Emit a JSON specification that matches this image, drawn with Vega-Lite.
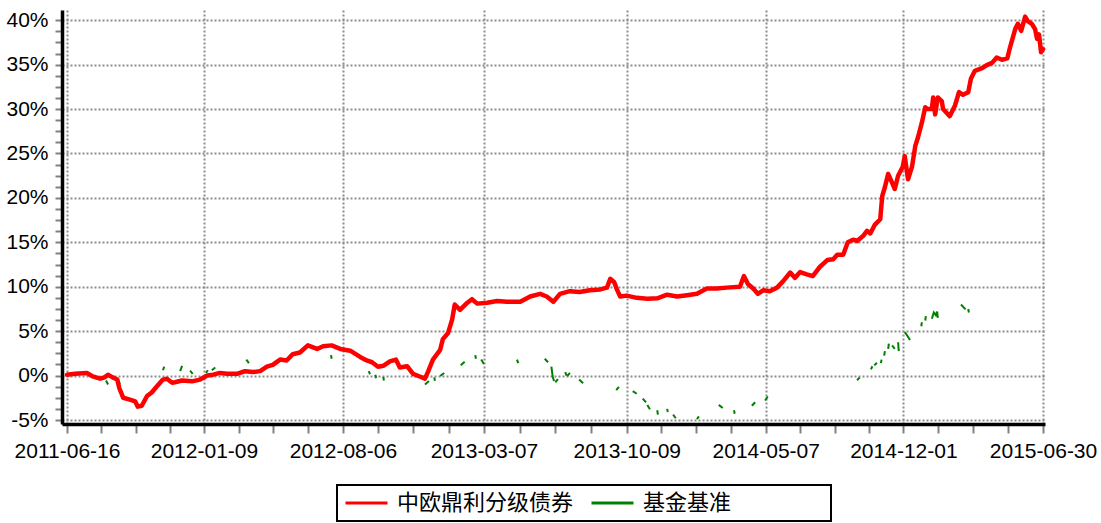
{
  "$schema": "https://vega.github.io/schema/vega-lite/v6.json",
  "autosize": {"type": "none"},
  "padding": {"left": 62, "top": 10, "right": 56, "bottom": 99},
  "width": 983,
  "height": 414,
  "background": "white",
  "config": {
    "font": "Liberation Sans",
    "view": {"stroke": null}
  },
  "data": {
    "values": [
      {"date": "2011/06/16", "series": "中欧鼎利分级债券", "value": 0.1, "seg": 0},
      {"date": "2011/06/28", "series": "中欧鼎利分级债券", "value": 0.2, "seg": 0},
      {"date": "2011/07/16", "series": "中欧鼎利分级债券", "value": 0.3, "seg": 0},
      {"date": "2011/07/25", "series": "中欧鼎利分级债券", "value": -0.1, "seg": 0},
      {"date": "2011/08/05", "series": "中欧鼎利分级债券", "value": -0.35, "seg": 0},
      {"date": "2011/08/12", "series": "中欧鼎利分级债券", "value": -0.2, "seg": 0},
      {"date": "2011/08/17", "series": "中欧鼎利分级债券", "value": 0.1, "seg": 0},
      {"date": "2011/08/24", "series": "中欧鼎利分级债券", "value": -0.2, "seg": 0},
      {"date": "2011/08/31", "series": "中欧鼎利分级债券", "value": -0.45, "seg": 0},
      {"date": "2011/09/03", "series": "中欧鼎利分级债券", "value": -1.4, "seg": 0},
      {"date": "2011/09/09", "series": "中欧鼎利分级债券", "value": -2.5, "seg": 0},
      {"date": "2011/09/19", "series": "中欧鼎利分级债券", "value": -2.7, "seg": 0},
      {"date": "2011/09/27", "series": "中欧鼎利分级债券", "value": -2.9, "seg": 0},
      {"date": "2011/10/01", "series": "中欧鼎利分级债券", "value": -3.5, "seg": 0},
      {"date": "2011/10/07", "series": "中欧鼎利分级债券", "value": -3.4, "seg": 0},
      {"date": "2011/10/15", "series": "中欧鼎利分级债券", "value": -2.3, "seg": 0},
      {"date": "2011/10/22", "series": "中欧鼎利分级债券", "value": -1.9, "seg": 0},
      {"date": "2011/10/30", "series": "中欧鼎利分级债券", "value": -1.2, "seg": 0},
      {"date": "2011/11/08", "series": "中欧鼎利分级债券", "value": -0.45, "seg": 0},
      {"date": "2011/11/14", "series": "中欧鼎利分级债券", "value": -0.35, "seg": 0},
      {"date": "2011/11/22", "series": "中欧鼎利分级债券", "value": -0.8, "seg": 0},
      {"date": "2011/11/26", "series": "中欧鼎利分级债券", "value": -0.75, "seg": 0},
      {"date": "2011/12/07", "series": "中欧鼎利分级债券", "value": -0.55, "seg": 0},
      {"date": "2011/12/22", "series": "中欧鼎利分级债券", "value": -0.65, "seg": 0},
      {"date": "2012/01/03", "series": "中欧鼎利分级债券", "value": -0.45, "seg": 0},
      {"date": "2012/01/14", "series": "中欧鼎利分级债券", "value": 0.0, "seg": 0},
      {"date": "2012/01/23", "series": "中欧鼎利分级债券", "value": 0.1, "seg": 0},
      {"date": "2012/02/02", "series": "中欧鼎利分级债券", "value": 0.3, "seg": 0},
      {"date": "2012/02/13", "series": "中欧鼎利分级债券", "value": 0.2, "seg": 0},
      {"date": "2012/02/28", "series": "中欧鼎利分级债券", "value": 0.2, "seg": 0},
      {"date": "2012/03/11", "series": "中欧鼎利分级债券", "value": 0.5, "seg": 0},
      {"date": "2012/03/23", "series": "中欧鼎利分级债券", "value": 0.4, "seg": 0},
      {"date": "2012/04/03", "series": "中欧鼎利分级债券", "value": 0.5, "seg": 0},
      {"date": "2012/04/13", "series": "中欧鼎利分级债券", "value": 1.0, "seg": 0},
      {"date": "2012/04/22", "series": "中欧鼎利分级债券", "value": 1.2, "seg": 0},
      {"date": "2012/05/03", "series": "中欧鼎利分级债券", "value": 1.8, "seg": 0},
      {"date": "2012/05/13", "series": "中欧鼎利分级债券", "value": 1.7, "seg": 0},
      {"date": "2012/05/22", "series": "中欧鼎利分级债券", "value": 2.4, "seg": 0},
      {"date": "2012/06/02", "series": "中欧鼎利分级债券", "value": 2.6, "seg": 0},
      {"date": "2012/06/14", "series": "中欧鼎利分级债券", "value": 3.4, "seg": 0},
      {"date": "2012/06/28", "series": "中欧鼎利分级债券", "value": 3.0, "seg": 0},
      {"date": "2012/07/07", "series": "中欧鼎利分级债券", "value": 3.3, "seg": 0},
      {"date": "2012/07/20", "series": "中欧鼎利分级债券", "value": 3.4, "seg": 0},
      {"date": "2012/08/02", "series": "中欧鼎利分级债券", "value": 3.0, "seg": 0},
      {"date": "2012/08/17", "series": "中欧鼎利分级债券", "value": 2.8, "seg": 0},
      {"date": "2012/09/01", "series": "中欧鼎利分级债券", "value": 2.1, "seg": 0},
      {"date": "2012/09/11", "series": "中欧鼎利分级债券", "value": 1.7, "seg": 0},
      {"date": "2012/09/19", "series": "中欧鼎利分级债券", "value": 1.5, "seg": 0},
      {"date": "2012/09/28", "series": "中欧鼎利分级债券", "value": 1.0, "seg": 0},
      {"date": "2012/10/06", "series": "中欧鼎利分级债券", "value": 1.1, "seg": 0},
      {"date": "2012/10/16", "series": "中欧鼎利分级债券", "value": 1.6, "seg": 0},
      {"date": "2012/10/25", "series": "中欧鼎利分级债券", "value": 1.8, "seg": 0},
      {"date": "2012/10/31", "series": "中欧鼎利分级债券", "value": 0.9, "seg": 0},
      {"date": "2012/11/11", "series": "中欧鼎利分级债券", "value": 1.05, "seg": 0},
      {"date": "2012/11/20", "series": "中欧鼎利分级债券", "value": 0.2, "seg": 0},
      {"date": "2012/11/30", "series": "中欧鼎利分级债券", "value": -0.1, "seg": 0},
      {"date": "2012/12/08", "series": "中欧鼎利分级债券", "value": -0.35, "seg": 0},
      {"date": "2012/12/13", "series": "中欧鼎利分级债券", "value": 0.5, "seg": 0},
      {"date": "2012/12/20", "series": "中欧鼎利分级债券", "value": 1.8, "seg": 0},
      {"date": "2012/12/31", "series": "中欧鼎利分级债券", "value": 2.9, "seg": 0},
      {"date": "2013/01/04", "series": "中欧鼎利分级债券", "value": 4.1, "seg": 0},
      {"date": "2013/01/12", "series": "中欧鼎利分级债券", "value": 4.8, "seg": 0},
      {"date": "2013/01/18", "series": "中欧鼎利分级债券", "value": 6.3, "seg": 0},
      {"date": "2013/01/22", "series": "中欧鼎利分级债券", "value": 8.0, "seg": 0},
      {"date": "2013/01/30", "series": "中欧鼎利分级债券", "value": 7.4, "seg": 0},
      {"date": "2013/02/10", "series": "中欧鼎利分级债券", "value": 8.2, "seg": 0},
      {"date": "2013/02/17", "series": "中欧鼎利分级债券", "value": 8.6, "seg": 0},
      {"date": "2013/02/25", "series": "中欧鼎利分级债券", "value": 8.1, "seg": 0},
      {"date": "2013/03/12", "series": "中欧鼎利分级债券", "value": 8.2, "seg": 0},
      {"date": "2013/03/27", "series": "中欧鼎利分级债券", "value": 8.4, "seg": 0},
      {"date": "2013/04/11", "series": "中欧鼎利分级债券", "value": 8.3, "seg": 0},
      {"date": "2013/05/01", "series": "中欧鼎利分级债券", "value": 8.3, "seg": 0},
      {"date": "2013/05/16", "series": "中欧鼎利分级债券", "value": 8.9, "seg": 0},
      {"date": "2013/05/31", "series": "中欧鼎利分级债券", "value": 9.2, "seg": 0},
      {"date": "2013/06/10", "series": "中欧鼎利分级债券", "value": 8.9, "seg": 0},
      {"date": "2013/06/20", "series": "中欧鼎利分级债券", "value": 8.3, "seg": 0},
      {"date": "2013/06/30", "series": "中欧鼎利分级债券", "value": 9.2, "seg": 0},
      {"date": "2013/07/15", "series": "中欧鼎利分级债券", "value": 9.5, "seg": 0},
      {"date": "2013/07/30", "series": "中欧鼎利分级债券", "value": 9.4, "seg": 0},
      {"date": "2013/08/14", "series": "中欧鼎利分级债券", "value": 9.6, "seg": 0},
      {"date": "2013/08/30", "series": "中欧鼎利分级债券", "value": 9.7, "seg": 0},
      {"date": "2013/09/09", "series": "中欧鼎利分级债券", "value": 9.9, "seg": 0},
      {"date": "2013/09/14", "series": "中欧鼎利分级债券", "value": 10.9, "seg": 0},
      {"date": "2013/09/20", "series": "中欧鼎利分级债券", "value": 10.5, "seg": 0},
      {"date": "2013/09/24", "series": "中欧鼎利分级债券", "value": 9.7, "seg": 0},
      {"date": "2013/09/29", "series": "中欧鼎利分级债券", "value": 8.9, "seg": 0},
      {"date": "2013/10/09", "series": "中欧鼎利分级债券", "value": 9.0, "seg": 0},
      {"date": "2013/10/24", "series": "中欧鼎利分级债券", "value": 8.75, "seg": 0},
      {"date": "2013/11/09", "series": "中欧鼎利分级债券", "value": 8.65, "seg": 0},
      {"date": "2013/11/24", "series": "中欧鼎利分级债券", "value": 8.7, "seg": 0},
      {"date": "2013/12/09", "series": "中欧鼎利分级债券", "value": 9.1, "seg": 0},
      {"date": "2013/12/24", "series": "中欧鼎利分级债券", "value": 8.9, "seg": 0},
      {"date": "2014/01/08", "series": "中欧鼎利分级债券", "value": 9.05, "seg": 0},
      {"date": "2014/01/23", "series": "中欧鼎利分级债券", "value": 9.2, "seg": 0},
      {"date": "2014/02/07", "series": "中欧鼎利分级债券", "value": 9.8, "seg": 0},
      {"date": "2014/02/22", "series": "中欧鼎利分级债券", "value": 9.8, "seg": 0},
      {"date": "2014/03/09", "series": "中欧鼎利分级债券", "value": 9.9, "seg": 0},
      {"date": "2014/03/29", "series": "中欧鼎利分级债券", "value": 10.0, "seg": 0},
      {"date": "2014/04/04", "series": "中欧鼎利分级债券", "value": 11.2, "seg": 0},
      {"date": "2014/04/10", "series": "中欧鼎利分级债券", "value": 10.3, "seg": 0},
      {"date": "2014/04/18", "series": "中欧鼎利分级债券", "value": 9.8, "seg": 0},
      {"date": "2014/04/25", "series": "中欧鼎利分级债券", "value": 9.2, "seg": 0},
      {"date": "2014/05/03", "series": "中欧鼎利分级债券", "value": 9.6, "seg": 0},
      {"date": "2014/05/13", "series": "中欧鼎利分级债券", "value": 9.5, "seg": 0},
      {"date": "2014/05/24", "series": "中欧鼎利分级债券", "value": 9.9, "seg": 0},
      {"date": "2014/06/02", "series": "中欧鼎利分级债券", "value": 10.6, "seg": 0},
      {"date": "2014/06/13", "series": "中欧鼎利分级债券", "value": 11.6, "seg": 0},
      {"date": "2014/06/20", "series": "中欧鼎利分级债券", "value": 11.0, "seg": 0},
      {"date": "2014/06/28", "series": "中欧鼎利分级债券", "value": 11.65, "seg": 0},
      {"date": "2014/07/08", "series": "中欧鼎利分级债券", "value": 11.4, "seg": 0},
      {"date": "2014/07/17", "series": "中欧鼎利分级债券", "value": 11.2, "seg": 0},
      {"date": "2014/07/28", "series": "中欧鼎利分级债券", "value": 12.25, "seg": 0},
      {"date": "2014/08/08", "series": "中欧鼎利分级债券", "value": 13.0, "seg": 0},
      {"date": "2014/08/17", "series": "中欧鼎利分级债券", "value": 13.1, "seg": 0},
      {"date": "2014/08/23", "series": "中欧鼎利分级债券", "value": 13.6, "seg": 0},
      {"date": "2014/09/01", "series": "中欧鼎利分级债券", "value": 13.6, "seg": 0},
      {"date": "2014/09/08", "series": "中欧鼎利分级债券", "value": 15.0, "seg": 0},
      {"date": "2014/09/16", "series": "中欧鼎利分级债券", "value": 15.3, "seg": 0},
      {"date": "2014/09/22", "series": "中欧鼎利分级债券", "value": 15.15, "seg": 0},
      {"date": "2014/10/01", "series": "中欧鼎利分级债券", "value": 15.7, "seg": 0},
      {"date": "2014/10/07", "series": "中欧鼎利分级债券", "value": 16.3, "seg": 0},
      {"date": "2014/10/12", "series": "中欧鼎利分级债券", "value": 16.0, "seg": 0},
      {"date": "2014/10/19", "series": "中欧鼎利分级债券", "value": 17.0, "seg": 0},
      {"date": "2014/10/27", "series": "中欧鼎利分级债券", "value": 17.6, "seg": 0},
      {"date": "2014/10/30", "series": "中欧鼎利分级债券", "value": 20.2, "seg": 0},
      {"date": "2014/11/03", "series": "中欧鼎利分级债券", "value": 21.2, "seg": 0},
      {"date": "2014/11/08", "series": "中欧鼎利分级债券", "value": 22.7, "seg": 0},
      {"date": "2014/11/14", "series": "中欧鼎利分级债券", "value": 21.7, "seg": 0},
      {"date": "2014/11/18", "series": "中欧鼎利分级债券", "value": 21.0, "seg": 0},
      {"date": "2014/11/23", "series": "中欧鼎利分级债券", "value": 22.5, "seg": 0},
      {"date": "2014/11/30", "series": "中欧鼎利分级债券", "value": 23.5, "seg": 0},
      {"date": "2014/12/03", "series": "中欧鼎利分级债券", "value": 24.7, "seg": 0},
      {"date": "2014/12/08", "series": "中欧鼎利分级债券", "value": 22.1, "seg": 0},
      {"date": "2014/12/14", "series": "中欧鼎利分级债券", "value": 23.5, "seg": 0},
      {"date": "2014/12/19", "series": "中欧鼎利分级债券", "value": 25.85, "seg": 0},
      {"date": "2014/12/23", "series": "中欧鼎利分级债券", "value": 26.8, "seg": 0},
      {"date": "2014/12/29", "series": "中欧鼎利分级债券", "value": 28.5, "seg": 0},
      {"date": "2015/01/03", "series": "中欧鼎利分级债券", "value": 30.2, "seg": 0},
      {"date": "2015/01/07", "series": "中欧鼎利分级债券", "value": 30.0, "seg": 0},
      {"date": "2015/01/13", "series": "中欧鼎利分级债券", "value": 30.0, "seg": 0},
      {"date": "2015/01/15", "series": "中欧鼎利分级债券", "value": 31.3, "seg": 0},
      {"date": "2015/01/18", "series": "中欧鼎利分级债券", "value": 29.4, "seg": 0},
      {"date": "2015/01/22", "series": "中欧鼎利分级债券", "value": 31.3, "seg": 0},
      {"date": "2015/01/28", "series": "中欧鼎利分级债券", "value": 30.9, "seg": 0},
      {"date": "2015/01/30", "series": "中欧鼎利分级债券", "value": 30.0, "seg": 0},
      {"date": "2015/02/09", "series": "中欧鼎利分级债券", "value": 29.2, "seg": 0},
      {"date": "2015/02/17", "series": "中欧鼎利分级债券", "value": 30.4, "seg": 0},
      {"date": "2015/02/23", "series": "中欧鼎利分级债券", "value": 31.9, "seg": 0},
      {"date": "2015/03/01", "series": "中欧鼎利分级债券", "value": 31.6, "seg": 0},
      {"date": "2015/03/09", "series": "中欧鼎利分级债券", "value": 31.9, "seg": 0},
      {"date": "2015/03/13", "series": "中欧鼎利分级债券", "value": 33.4, "seg": 0},
      {"date": "2015/03/19", "series": "中欧鼎利分级债券", "value": 34.3, "seg": 0},
      {"date": "2015/03/30", "series": "中欧鼎利分级债券", "value": 34.6, "seg": 0},
      {"date": "2015/04/06", "series": "中欧鼎利分级债券", "value": 34.95, "seg": 0},
      {"date": "2015/04/14", "series": "中欧鼎利分级债券", "value": 35.2, "seg": 0},
      {"date": "2015/04/21", "series": "中欧鼎利分级债券", "value": 35.8, "seg": 0},
      {"date": "2015/04/29", "series": "中欧鼎利分级债券", "value": 35.55, "seg": 0},
      {"date": "2015/05/07", "series": "中欧鼎利分级债券", "value": 35.7, "seg": 0},
      {"date": "2015/05/11", "series": "中欧鼎利分级债券", "value": 36.9, "seg": 0},
      {"date": "2015/05/19", "series": "中欧鼎利分级债券", "value": 39.0, "seg": 0},
      {"date": "2015/05/23", "series": "中欧鼎利分级债券", "value": 39.6, "seg": 0},
      {"date": "2015/05/28", "series": "中欧鼎利分级债券", "value": 38.8, "seg": 0},
      {"date": "2015/06/03", "series": "中欧鼎利分级债券", "value": 40.4, "seg": 0},
      {"date": "2015/06/07", "series": "中欧鼎利分级债券", "value": 39.9, "seg": 0},
      {"date": "2015/06/13", "series": "中欧鼎利分级债券", "value": 39.6, "seg": 0},
      {"date": "2015/06/18", "series": "中欧鼎利分级债券", "value": 39.0, "seg": 0},
      {"date": "2015/06/21", "series": "中欧鼎利分级债券", "value": 37.9, "seg": 0},
      {"date": "2015/06/24", "series": "中欧鼎利分级债券", "value": 38.4, "seg": 0},
      {"date": "2015/06/27", "series": "中欧鼎利分级债券", "value": 36.4, "seg": 0},
      {"date": "2015/06/30", "series": "中欧鼎利分级债券", "value": 36.75, "seg": 0},

      {"date": "2011/08/14", "series": "基金基准", "value": -0.55, "seg": 1},
      {"date": "2011/08/17", "series": "基金基准", "value": -1.0, "seg": 1},
      {"date": "2011/09/01", "series": "基金基准", "value": -0.5, "seg": 2},
      {"date": "2011/09/04", "series": "基金基准", "value": -0.95, "seg": 2},
      {"date": "2011/11/08", "series": "基金基准", "value": 0.6, "seg": 3},
      {"date": "2011/11/10", "series": "基金基准", "value": 1.0, "seg": 3},
      {"date": "2011/12/04", "series": "基金基准", "value": 0.5, "seg": 4},
      {"date": "2011/12/07", "series": "基金基准", "value": 1.1, "seg": 4},
      {"date": "2011/12/19", "series": "基金基准", "value": 0.55, "seg": 5},
      {"date": "2011/12/23", "series": "基金基准", "value": 0.2, "seg": 5},
      {"date": "2012/01/12", "series": "基金基准", "value": 0.3, "seg": 6},
      {"date": "2012/01/15", "series": "基金基准", "value": 0.6, "seg": 6},
      {"date": "2012/01/21", "series": "基金基准", "value": 0.6, "seg": 7},
      {"date": "2012/01/26", "series": "基金基准", "value": 0.9, "seg": 7},
      {"date": "2012/03/13", "series": "基金基准", "value": 1.8, "seg": 8},
      {"date": "2012/03/17", "series": "基金基准", "value": 1.4, "seg": 8},
      {"date": "2012/07/19", "series": "基金基准", "value": 2.3, "seg": 9},
      {"date": "2012/07/20", "series": "基金基准", "value": 1.9, "seg": 9},
      {"date": "2012/09/14", "series": "基金基准", "value": 0.5, "seg": 10},
      {"date": "2012/09/16", "series": "基金基准", "value": 0.15, "seg": 10},
      {"date": "2012/09/24", "series": "基金基准", "value": 0.1, "seg": 11},
      {"date": "2012/09/25", "series": "基金基准", "value": -0.3, "seg": 11},
      {"date": "2012/10/06", "series": "基金基准", "value": -0.15, "seg": 12},
      {"date": "2012/10/07", "series": "基金基准", "value": -0.55, "seg": 12},
      {"date": "2012/12/08", "series": "基金基准", "value": -1.0, "seg": 13},
      {"date": "2012/12/14", "series": "基金基准", "value": -0.6, "seg": 13},
      {"date": "2012/12/22", "series": "基金基准", "value": -0.2, "seg": 14},
      {"date": "2012/12/23", "series": "基金基准", "value": -0.6, "seg": 14},
      {"date": "2012/12/31", "series": "基金基准", "value": -0.05, "seg": 15},
      {"date": "2013/01/06", "series": "基金基准", "value": 0.3, "seg": 15},
      {"date": "2013/01/31", "series": "基金基准", "value": 1.15, "seg": 16},
      {"date": "2013/02/06", "series": "基金基准", "value": 1.55, "seg": 16},
      {"date": "2013/02/22", "series": "基金基准", "value": 2.3, "seg": 17},
      {"date": "2013/02/23", "series": "基金基准", "value": 1.9, "seg": 17},
      {"date": "2013/03/03", "series": "基金基准", "value": 1.8, "seg": 18},
      {"date": "2013/03/07", "series": "基金基准", "value": 1.3, "seg": 18},
      {"date": "2013/04/26", "series": "基金基准", "value": 1.8, "seg": 19},
      {"date": "2013/04/28", "series": "基金基准", "value": 1.4, "seg": 19},
      {"date": "2013/06/07", "series": "基金基准", "value": 1.9, "seg": 20},
      {"date": "2013/06/12", "series": "基金基准", "value": 1.5, "seg": 20},
      {"date": "2013/06/17", "series": "基金基准", "value": 1.0, "seg": 21},
      {"date": "2013/06/19", "series": "基金基准", "value": -0.1, "seg": 21},
      {"date": "2013/06/21", "series": "基金基准", "value": -0.6, "seg": 21},
      {"date": "2013/06/23", "series": "基金基准", "value": -0.75, "seg": 22},
      {"date": "2013/06/27", "series": "基金基准", "value": -0.4, "seg": 22},
      {"date": "2013/07/08", "series": "基金基准", "value": 0.4, "seg": 23},
      {"date": "2013/07/10", "series": "基金基准", "value": 0.0, "seg": 23},
      {"date": "2013/07/11", "series": "基金基准", "value": -0.05, "seg": 24},
      {"date": "2013/07/15", "series": "基金基准", "value": 0.3, "seg": 24},
      {"date": "2013/07/29", "series": "基金基准", "value": -0.45, "seg": 25},
      {"date": "2013/08/04", "series": "基金基准", "value": -0.85, "seg": 25},
      {"date": "2013/09/23", "series": "基金基准", "value": -1.65, "seg": 26},
      {"date": "2013/09/27", "series": "基金基准", "value": -1.27, "seg": 26},
      {"date": "2013/10/18", "series": "基金基准", "value": -1.75, "seg": 27},
      {"date": "2013/10/24", "series": "基金基准", "value": -2.05, "seg": 27},
      {"date": "2013/11/02", "series": "基金基准", "value": -2.6, "seg": 28},
      {"date": "2013/11/07", "series": "基金基准", "value": -3.0, "seg": 28},
      {"date": "2013/11/09", "series": "基金基准", "value": -3.3, "seg": 29},
      {"date": "2013/11/13", "series": "基金基准", "value": -3.8, "seg": 29},
      {"date": "2013/11/24", "series": "基金基准", "value": -3.9, "seg": 30},
      {"date": "2013/11/25", "series": "基金基准", "value": -4.4, "seg": 30},
      {"date": "2013/12/09", "series": "基金基准", "value": -3.75, "seg": 31},
      {"date": "2013/12/10", "series": "基金基准", "value": -4.1, "seg": 31},
      {"date": "2013/12/18", "series": "基金基准", "value": -4.4, "seg": 32},
      {"date": "2013/12/22", "series": "基金基准", "value": -4.8, "seg": 32},
      {"date": "2014/01/23", "series": "基金基准", "value": -4.9, "seg": 33},
      {"date": "2014/01/26", "series": "基金基准", "value": -4.6, "seg": 33},
      {"date": "2014/02/25", "series": "基金基准", "value": -3.3, "seg": 34},
      {"date": "2014/03/03", "series": "基金基准", "value": -3.65, "seg": 34},
      {"date": "2014/03/20", "series": "基金基准", "value": -3.9, "seg": 35},
      {"date": "2014/03/21", "series": "基金基准", "value": -4.3, "seg": 35},
      {"date": "2014/04/16", "series": "基金基准", "value": -3.4, "seg": 36},
      {"date": "2014/04/21", "series": "基金基准", "value": -3.0, "seg": 36},
      {"date": "2014/05/06", "series": "基金基准", "value": -2.8, "seg": 37},
      {"date": "2014/05/10", "series": "基金基准", "value": -2.35, "seg": 37},
      {"date": "2014/09/22", "series": "基金基准", "value": -0.53, "seg": 38},
      {"date": "2014/09/26", "series": "基金基准", "value": -0.2, "seg": 38},
      {"date": "2014/10/13", "series": "基金基准", "value": 0.7, "seg": 39},
      {"date": "2014/10/15", "series": "基金基准", "value": 1.05, "seg": 39},
      {"date": "2014/10/18", "series": "基金基准", "value": 1.15, "seg": 40},
      {"date": "2014/10/22", "series": "基金基准", "value": 1.45, "seg": 40},
      {"date": "2014/10/28", "series": "基金基准", "value": 1.4, "seg": 41},
      {"date": "2014/10/29", "series": "基金基准", "value": 1.8, "seg": 41},
      {"date": "2014/11/02", "series": "基金基准", "value": 2.25, "seg": 42},
      {"date": "2014/11/03", "series": "基金基准", "value": 2.75, "seg": 42},
      {"date": "2014/11/08", "series": "基金基准", "value": 3.0, "seg": 43},
      {"date": "2014/11/09", "series": "基金基准", "value": 3.6, "seg": 43},
      {"date": "2014/11/14", "series": "基金基准", "value": 3.4, "seg": 44},
      {"date": "2014/11/18", "series": "基金基准", "value": 3.0, "seg": 44},
      {"date": "2014/11/23", "series": "基金基准", "value": 3.75, "seg": 45},
      {"date": "2014/11/24", "series": "基金基准", "value": 2.75, "seg": 45},
      {"date": "2014/12/03", "series": "基金基准", "value": 4.9, "seg": 46},
      {"date": "2014/12/06", "series": "基金基准", "value": 4.6, "seg": 46},
      {"date": "2014/12/11", "series": "基金基准", "value": 4.0, "seg": 46},
      {"date": "2014/12/28", "series": "基金基准", "value": 5.55, "seg": 47},
      {"date": "2014/12/29", "series": "基金基准", "value": 6.0, "seg": 47},
      {"date": "2015/01/03", "series": "基金基准", "value": 6.2, "seg": 48},
      {"date": "2015/01/04", "series": "基金基准", "value": 6.7, "seg": 48},
      {"date": "2015/01/13", "series": "基金基准", "value": 6.4, "seg": 49},
      {"date": "2015/01/16", "series": "基金基准", "value": 7.1, "seg": 49},
      {"date": "2015/01/19", "series": "基金基准", "value": 6.8, "seg": 49},
      {"date": "2015/01/21", "series": "基金基准", "value": 7.2, "seg": 49},
      {"date": "2015/01/22", "series": "基金基准", "value": 6.5, "seg": 49},
      {"date": "2015/02/26", "series": "基金基准", "value": 8.0, "seg": 50},
      {"date": "2015/03/05", "series": "基金基准", "value": 7.45, "seg": 50},
      {"date": "2015/03/09", "series": "基金基准", "value": 7.5, "seg": 51},
      {"date": "2015/03/10", "series": "基金基准", "value": 7.1, "seg": 51}
    ]
  },
  "encoding": {
    "x": {
      "field": "date",
      "type": "temporal",
      "title": null,
      "scale": {
        "domain": [
          {"year": 2011, "month": 6, "date": 8, "hours": 11},
          {"year": 2015, "month": 7, "date": 3}
        ]
      },
      "axis": {
        "values": [
          {"year": 2011, "month": 6, "date": 16},
          {"year": 2011, "month": 8, "date": 7},
          {"year": 2011, "month": 9, "date": 28},
          {"year": 2011, "month": 11, "date": 18},
          {"year": 2012, "month": 1, "date": 9},
          {"year": 2012, "month": 3, "date": 2},
          {"year": 2012, "month": 4, "date": 23},
          {"year": 2012, "month": 6, "date": 14},
          {"year": 2012, "month": 8, "date": 6},
          {"year": 2012, "month": 9, "date": 28},
          {"year": 2012, "month": 11, "date": 20},
          {"year": 2013, "month": 1, "date": 13},
          {"year": 2013, "month": 3, "date": 7},
          {"year": 2013, "month": 4, "date": 30},
          {"year": 2013, "month": 6, "date": 23},
          {"year": 2013, "month": 8, "date": 16},
          {"year": 2013, "month": 10, "date": 9},
          {"year": 2013, "month": 11, "date": 30},
          {"year": 2014, "month": 1, "date": 22},
          {"year": 2014, "month": 3, "date": 15},
          {"year": 2014, "month": 5, "date": 7},
          {"year": 2014, "month": 6, "date": 28},
          {"year": 2014, "month": 8, "date": 19},
          {"year": 2014, "month": 10, "date": 10},
          {"year": 2014, "month": 12, "date": 1},
          {"year": 2015, "month": 1, "date": 23},
          {"year": 2015, "month": 3, "date": 16},
          {"year": 2015, "month": 5, "date": 8},
          {"year": 2015, "month": 6, "date": 30}
        ],
        "labelExpr": "indexof(['2011-06-16','2012-01-09','2012-08-06','2013-03-07','2013-10-09','2014-05-07','2014-12-01','2015-06-30'], timeFormat(datum.value, '%Y-%m-%d')) >= 0 ? timeFormat(datum.value, '%Y-%m-%d') : ''",
        "labelFlush": false,
        "labelOverlap": false,
        "labelFont": "Liberation Sans",
        "labelFontSize": 21,
        "labelColor": "black",
        "labelPadding": 7,
        "tickSize": 9,
        "tickWidth": 2,
        "tickColor": "#808080",
        "domainColor": "black",
        "domainWidth": 3.5,
        "grid": true,
        "gridColor": "#8c8c8c",
        "gridDash": [2, 2],
        "gridWidth": 2,
        "gridOpacity": {
          "condition": {
            "test": "indexof(['2011-06-16','2012-01-09','2012-08-06','2013-03-07','2013-10-09','2014-05-07','2014-12-01','2015-06-30'], timeFormat(datum.value, '%Y-%m-%d')) >= 0",
            "value": 1
          },
          "value": 0
        }
      }
    },
    "y": {
      "field": "value",
      "type": "quantitative",
      "title": null,
      "scale": {"domain": [-5.45, 41.15], "nice": false, "zero": false},
      "axis": {
        "values": [-5, -3.75, -2.5, -1.25, 0, 1.25, 2.5, 3.75, 5, 6.25, 7.5, 8.75, 10, 11.25, 12.5, 13.75, 15, 16.25, 17.5, 18.75, 20, 21.25, 22.5, 23.75, 25, 26.25, 27.5, 28.75, 30, 31.25, 32.5, 33.75, 35, 36.25, 37.5, 38.75, 40],
        "labelExpr": "datum.value % 5 === 0 ? datum.value + '%' : ''",
        "labelOverlap": false,
        "labelFont": "Liberation Sans",
        "labelFontSize": 21,
        "labelColor": "black",
        "labelPadding": 7,
        "tickSize": 7,
        "tickWidth": 2,
        "tickColor": "#808080",
        "domainColor": "black",
        "domainWidth": 3.5,
        "grid": true,
        "gridColor": "#8c8c8c",
        "gridDash": [2, 2],
        "gridWidth": 2,
        "gridOpacity": {
          "condition": {"test": "datum.value % 5 === 0", "value": 1},
          "value": 0
        }
      }
    },
    "color": {
      "field": "series",
      "type": "nominal",
      "scale": {
        "domain": ["中欧鼎利分级债券", "基金基准"],
        "range": ["#ff0000", "#008000"]
      },
      "legend": {
        "title": null,
        "orient": "none",
        "legendX": 275,
        "legendY": 475,
        "direction": "horizontal",
        "symbolType": "stroke",
        "symbolSize": 1764,
        "symbolStrokeWidth": 3,
        "clipHeight": 22,
        "labelFont": "Noto Sans CJK SC",
        "labelFontSize": 22,
        "labelColor": "black",
        "labelLimit": 500,
        "labelOffset": 8,
        "columnPadding": 16,
        "padding": 7,
        "strokeColor": "black",
        "labelExpr": "datum.label === '基金基准' ? datum.label + '\u3000\u3000\u3000\u3000 \u200b' : datum.label",
        "encode": {
          "legend": {"update": {"strokeWidth": {"value": 2}}}
        }
      }
    }
  },
  "layer": [
    {
      "transform": [{"filter": "datum.series === '基金基准'"}],
      "mark": {"type": "line", "strokeWidth": 2, "strokeCap": "butt"},
      "encoding": {"detail": {"field": "seg", "type": "nominal"}}
    },
    {
      "transform": [{"filter": "datum.series === '中欧鼎利分级债券'"}],
      "mark": {"type": "line", "strokeWidth": 4.5, "strokeJoin": "round", "strokeCap": "round"},
      "encoding": {}
    }
  ]
}
